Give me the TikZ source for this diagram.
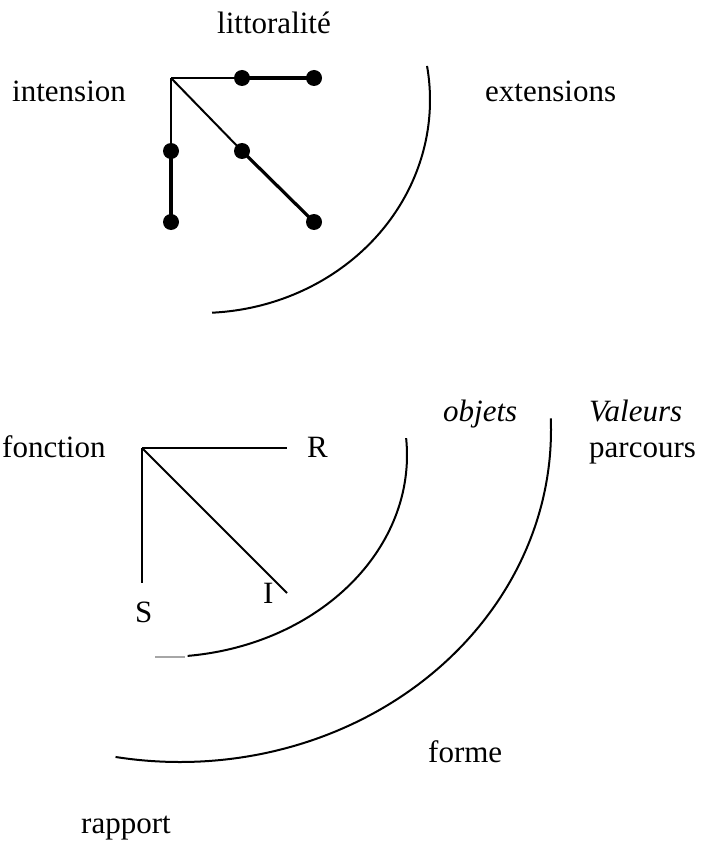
\documentclass[tikz,border=0pt]{standalone}
\usepackage{fontspec}
\setmainfont{Liberation Serif}
\begin{document}
\begin{tikzpicture}[x=1pt,y=-1pt,
  lbl/.style={anchor=base west,inner sep=0pt,font=\fontsize{31}{37}\selectfont},
  thin/.style={line width=2pt},
  thk/.style={line width=3.2pt},
  dotnode/.style={circle,fill=black,inner sep=0pt,minimum size=16pt},
  arcline/.style={line width=2pt}]
\useasboundingbox (0,0) rectangle (704,845);
% ---- top diagram ----
\node[lbl] (litt) at (217,34) {littoralité};
\node[lbl] (inten) at (12,102) {intension};
\node[lbl] (ext) at (485,102) {extensions};
\coordinate (r1) at (171,78);
\node[dotnode] (a1) at (242,78) {};
\node[dotnode] (a2) at (314,78) {};
\node[dotnode] (b1) at (171,151) {};
\node[dotnode] (b2) at (171,222) {};
\node[dotnode] (c1) at (242,151) {};
\node[dotnode] (c2) at (314,222) {};
\draw[thin] (r1) -- (a1.center);
\draw[thk] (a1.center) -- (a2.center);
\draw[thin] (r1) -- (b1.center);
\draw[thk] (b1.center) -- (b2.center);
\draw[thin] (r1) -- (c1.center);
\draw[thk] (c1.center) -- (c2.center);
\draw[arcline] (200,100) ++(-9.2:230 and 213) arc[start angle=-9.2,end angle=87,x radius=230,y radius=213];
% ---- bottom diagram ----
\node[lbl] (fonc) at (2,457) {fonction};
\node[lbl] (R) at (307,457) {R};
\node[lbl] (S) at (135,622) {S};
\node[lbl] (I) at (263,603) {I};
\node[lbl] (obj) at (443,421) {\itshape objets};
\node[lbl] (val) at (589,421) {\itshape Valeurs};
\node[lbl] (parc) at (589,457) {parcours};
\node[lbl] (forme) at (428,762) {forme};
\node[lbl] (rapp) at (81,833) {rapport};
\coordinate (r2) at (142,448);
\coordinate (eR) at (287,448);
\coordinate (eS) at (142,583);
\coordinate (eI) at (287,593);
\draw[thin] (r2) -- (eR);
\draw[thin] (r2) -- (eS);
\draw[thin] (r2) -- (eI);
\draw[arcline] (162,455) ++(-4.8:245 and 202) arc[start angle=-4.8,end angle=84,x radius=245,y radius=202];
\draw[line width=1.5pt,gray!70] (155,657) -- (185,657);
\draw[arcline] (180,430) ++(-2:371 and 332) arc[start angle=-2,end angle=100,x radius=371,y radius=332];
\end{tikzpicture}
\end{document}
